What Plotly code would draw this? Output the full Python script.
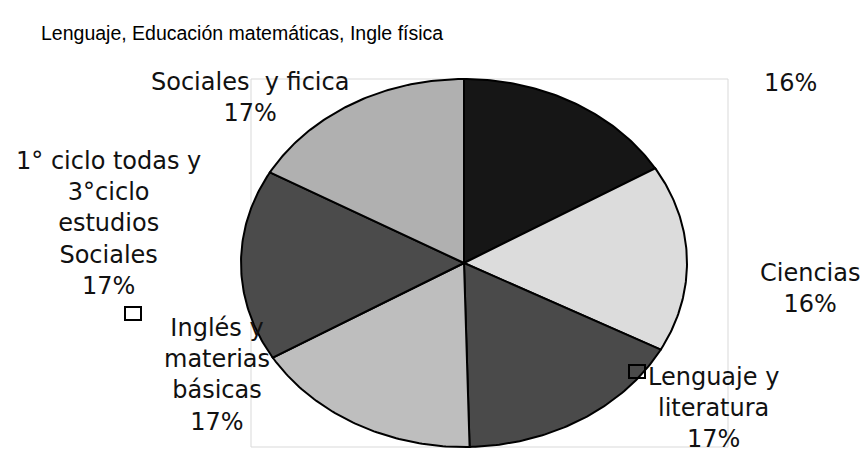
import numpy as np
import plotly.graph_objects as go

title = "Lenguaje, Educación matemáticas, Ingle física"
categories = ["", "Ciencias", "Lenguaje y<br>literatura", "Inglés y<br>materias<br>básicas",
              "1° ciclo todas y<br>3°ciclo<br>estudios<br>Sociales", "Sociales  y ficica"]
values = [16.4, 16.4, 16.8, 16.8, 16.8, 16.8]
colors = ["#161616", "#dcdcdc", "#4a4a4a", "#bebebe", "#4b4b4b", "#b0b0b0"]

# pie geometry (axis units are pixels of the 868x457 canvas)
cx, cy, rx, ry = 464, 263, 223, 184
label_pos = [(790, 83), (810, 288), (713, 408), (217, 375), (108, 223), (250, 97)]


def create_figure():
    fig = go.Figure()
    fig.update_layout(
        width=868, height=457,
        showlegend=False,
        paper_bgcolor="white", plot_bgcolor="white",
        margin=dict(l=0, r=0, t=0, b=0),
        hovermode=False,
    )
    fig.update_xaxes(range=[0, 868], visible=False, fixedrange=True)
    fig.update_yaxes(range=[457, 0], visible=False, fixedrange=True)
    return fig


def add_slices(figure):
    total = sum(values)
    start = 90.0
    for v, c in zip(values, colors):
        sweep = v / total * 360.0
        th = np.radians(np.linspace(start, start - sweep, 80))
        xs = np.concatenate([[cx], cx + rx * np.cos(th), [cx]])
        ys = np.concatenate([[cy], cy - ry * np.sin(th), [cy]])
        figure.add_trace(go.Scatter(
            x=xs, y=ys, mode="lines", fill="toself", fillcolor=c,
            line=dict(color="black", width=2), hoverinfo="skip",
        ))
        start -= sweep


def add_labels(figure):
    total = sum(values)
    for name, v, (lx, ly) in zip(categories, values, label_pos):
        pct = f"{round(v / total * 100)}%"
        text = pct if not name else name + "<br>" + pct
        figure.add_annotation(
            x=lx, y=ly, text=text, showarrow=False,
            font=dict(family="DejaVu Sans", size=24, color="#111111"),
            align="center", xanchor="center", yanchor="middle",
        )


fig = create_figure()
# plot area frame
fig.add_shape(type="rect", x0=251, y0=79, x1=728, y1=447,
              line=dict(color="#d9d9d9", width=1), layer="below")
add_slices(fig)
add_labels(fig)
# stray legend keys
for x0, y0 in [(125, 307), (629, 365)]:
    fig.add_shape(type="rect", x0=x0, y0=y0, x1=x0 + 16, y1=y0 + 13,
                  line=dict(color="black", width=2), fillcolor="rgba(0,0,0,0)")

fig.add_annotation(
    x=242, y=33, text=title, showarrow=False,
    font=dict(family="Liberation Sans", size=19.5, color="black"),
    xanchor="center", yanchor="middle",
)

fig.write_html("out.html", config={"displayModeBar": False},
               post_script="document.body.style.margin='0';")
